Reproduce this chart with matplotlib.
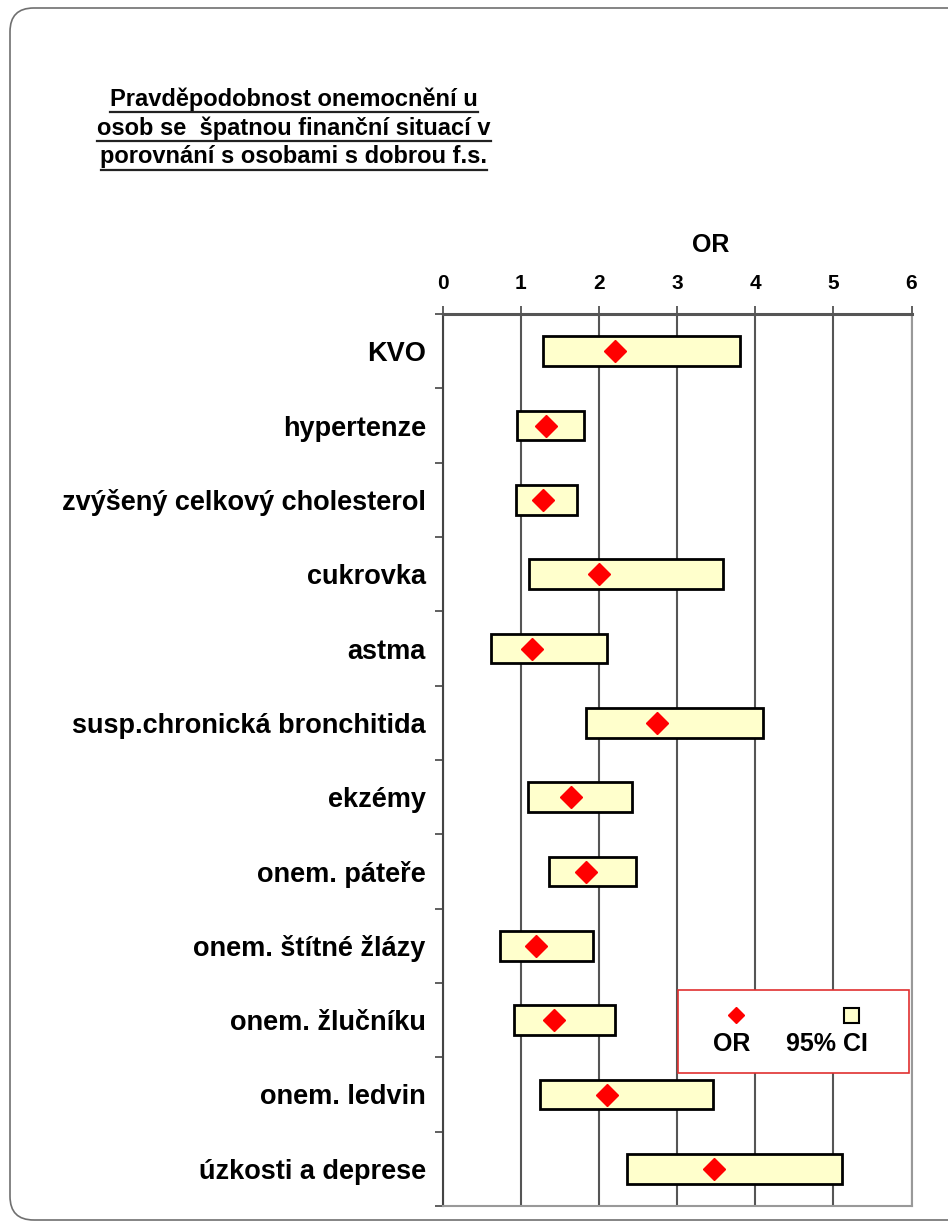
import numpy as np
import matplotlib.pyplot as plt
import matplotlib as mpl
from matplotlib.patches import FancyBboxPatch, Rectangle
from matplotlib.lines import Line2D

mpl.rcParams['font.family'] = ['Liberation Sans', 'DejaVu Sans']

# data
categories = ['KVO', 'hypertenze', 'zvýšený celkový cholesterol', 'cukrovka',
              'astma', 'susp.chronická bronchitida', 'ekzémy', 'onem. páteře',
              'onem. štítné žlázy', 'onem. žlučníku', 'onem. ledvin',
              'úzkosti a deprese']
odds_ratio = [2.21, 1.32, 1.28, 2.00, 1.15, 2.74, 1.65, 1.83, 1.20, 1.43, 2.10, 3.47]
ci_low = [1.28, 0.95, 0.94, 1.11, 0.62, 1.83, 1.09, 1.36, 0.74, 0.92, 1.25, 2.36]
ci_high = [3.80, 1.81, 1.72, 3.59, 2.10, 4.10, 2.43, 2.47, 1.93, 2.21, 3.46, 5.11]
x_ticks = [0, 1, 2, 3, 4, 5, 6]

title_lines = ['Pravděpodobnost onemocnění u',
               'osob se  špatnou finanční situací v',
               'porovnání s osobami s dobrou f.s.']

W, H = 948, 1225
fig = plt.figure(figsize=(W / 100, H / 100), dpi=100)

# slide frame
frame = FancyBboxPatch((10 / W, 5 / H), (W + 40) / W, (H - 13) / H,
                       boxstyle='round,pad=0,rounding_size=0.025',
                       transform=fig.transFigure, fill=False,
                       edgecolor='#707070', lw=1.2, mutation_aspect=W / H)
fig.add_artist(frame)

ax = fig.add_axes([442.5 / W, 1 - 1206 / H, 469 / W, 892 / H])

y = np.arange(len(categories))
width = np.array(ci_high) - np.array(ci_low)
ax.barh(y, width, left=ci_low, height=0.4, color='#FFFFCC',
        edgecolor='black', lw=2, zorder=3)
ax.plot(odds_ratio, y, ls='none', marker='D', ms=11, color='#FF0000',
        mec='#FF0000', zorder=4)

ax.set_xlim(0, 6)
ax.set_ylim(len(categories) - 0.5, -0.5)
ax.xaxis.tick_top()
ax.set_xticks(x_ticks)
ax.set_xticklabels([str(t) for t in x_ticks], fontweight='bold', fontsize=15)
ax.tick_params(axis='x', direction='out', length=6, width=1.2, color='#444444', pad=9)
ax.grid(axis='x', color='#555555', lw=1.5, zorder=1)

ax.set_yticks(y)
ax.set_yticklabels(categories, fontweight='bold', fontsize=19.5)
ax.set_yticks(np.arange(-0.5, len(categories)), minor=True)
ax.tick_params(axis='y', which='major', length=0, pad=12)
ax.tick_params(axis='y', which='minor', direction='out', length=6, width=1.2,
               color='#444444')

ax.spines['left'].set_color('#444444')
ax.spines['left'].set_linewidth(1.5)
ax.spines['top'].set_color('#555555')
ax.spines['top'].set_linewidth(2.2)
ax.spines['right'].set_color('#999999')
ax.spines['bottom'].set_color('#999999')
ax.spines['right'].set_linewidth(1.5)
ax.spines['bottom'].set_linewidth(1.5)

ax.text((711 - 442.5) / 469, 1 + 69 / 892, 'OR', transform=ax.transAxes,
        ha='center', va='center', fontsize=18, fontweight='bold')

# legend box drawn by hand: markers above their labels
lx0, ly0 = (678 - 442.5) / 469, (1206 - 1073) / 892
lw_, lh_ = (909 - 678) / 469, (1073 - 990) / 892
ax.add_patch(Rectangle((lx0, ly0), lw_, lh_, transform=ax.transAxes,
                       facecolor='white', edgecolor='#E03030', lw=1.2,
                       zorder=5, clip_on=False))
ax.plot([(736 - 442.5) / 469], [(1206 - 1015) / 892], transform=ax.transAxes,
        marker='D', ms=8.5, color='#FF0000', ls='none', zorder=6, clip_on=False)
ax.add_patch(Rectangle(((844 - 442.5) / 469, (1206 - 1023) / 892), 15 / 469, 15 / 892,
                       transform=ax.transAxes, facecolor='#FFFFCC',
                       edgecolor='black', lw=1.5, zorder=6, clip_on=False))
ax.text((732 - 442.5) / 469, (1206 - 1044) / 892, 'OR', transform=ax.transAxes,
        ha='center', va='center', fontsize=18, fontweight='bold', zorder=7)
ax.text((827 - 442.5) / 469, (1206 - 1044) / 892, '95% CI', transform=ax.transAxes,
        ha='center', va='center', fontsize=18, fontweight='bold', zorder=7)

# underlined title
title_y = [99, 128, 157]
for line, ty in zip(title_lines, title_y):
    fig.text(294 / W, 1 - ty / H, line, ha='center', va='center',
             fontsize=17, fontweight='bold')
fig.canvas.draw()
r = fig.canvas.get_renderer()
for t in fig.texts:
    bb = t.get_window_extent(r)
    yl = bb.y0 - 1
    fig.add_artist(Line2D([bb.x0 / W, bb.x1 / W], [yl / H, yl / H],
                          transform=fig.transFigure, color='#222222', lw=1.6))

fig.savefig('out.png', dpi=100, facecolor='white')
